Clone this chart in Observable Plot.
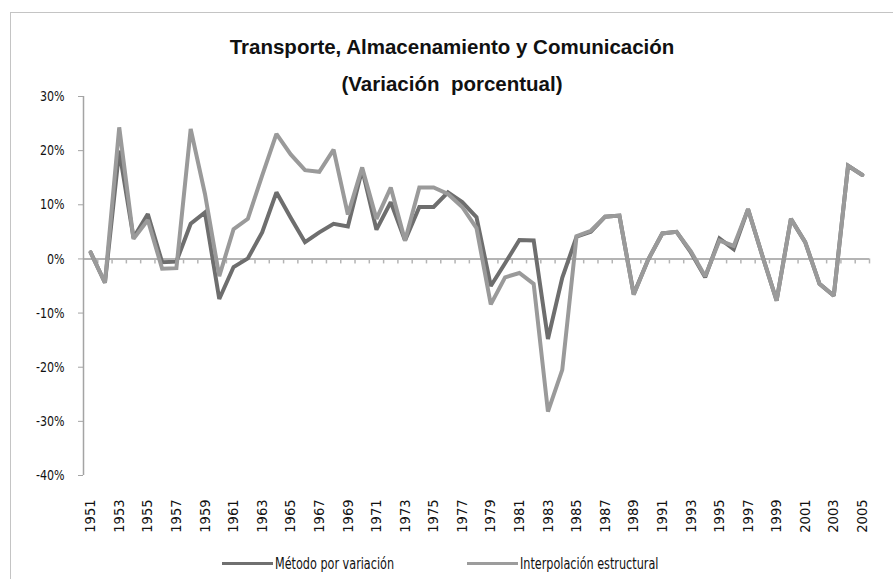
<!DOCTYPE html>
<html><head><meta charset="utf-8">
<script src="https://cdn.jsdelivr.net/npm/d3@7"></script>
<script src="https://cdn.jsdelivr.net/npm/@observablehq/plot@0.6"></script>
<style>
body{margin:0;background:#fff;}
#wrap{position:relative;width:893px;height:579px;overflow:hidden;background:#fff;font-family:"Liberation Sans Narrow","Arial Narrow","DejaVu Sans Condensed",sans-serif;}
#chart{position:absolute;left:0;top:0;}
#border{position:absolute;left:10px;top:12px;width:900px;height:600px;border-top:1px solid #c4c4c4;border-left:1px solid #c4c4c4;}
.title{position:absolute;left:0;width:904px;text-align:center;font-family:"Liberation Sans",Arial,sans-serif;font-weight:bold;font-size:20.5px;line-height:20px;color:#111;white-space:pre;}
.leg{position:absolute;font-size:16px;line-height:16px;color:#111;white-space:nowrap;transform:scaleX(0.78);transform-origin:0 50%;}
.sw{position:absolute;height:3px;}
</style></head>
<body>
<div id="wrap">
  <div id="border"></div>
  <div id="chart"></div>
  <div class="title" style="top:37px">Transporte, Almacenamiento y Comunicación</div>
  <div class="title" style="top:74px">(Variación  porcentual)</div>
  <div class="sw" style="left:222px;top:562px;width:51px;background:#707070"></div>
  <div class="leg" style="left:275px;top:556px">Método por variación</div>
  <div class="sw" style="left:467px;top:562px;width:51px;background:#9c9c9c"></div>
  <div class="leg" style="left:520px;top:556px">Interpolación estructural</div>
</div>
<script>
const years = [
  1951,1952,1953,1954,1955,1956,1957,1958,1959,1960,
  1961,1962,1963,1964,1965,1966,1967,1968,1969,1970,
  1971,1972,1973,1974,1975,1976,1977,1978,1979,1980,
  1981,1982,1983,1984,1985,1986,1987,1988,1989,1990,
  1991,1992,1993,1994,1995,1996,1997,1998,1999,2000,
  2001,2002,2003,2004,2005
];
// Método por variación (%)
const metodo = [
  1.2,-4.4,20.0,3.9,8.3,-0.6,-0.5,6.5,8.6,-7.4,
  -1.5,0.1,4.9,12.3,7.6,3.1,4.9,6.5,6.0,16.5,
  5.4,10.5,3.4,9.6,9.6,12.3,10.5,7.7,-5.0,-0.8,
  3.5,3.4,-14.8,-3.5,4.1,5.0,7.8,8.0,-6.5,-0.2,
  4.7,5.0,1.2,-3.4,3.8,1.8,9.2,0.6,-7.7,7.4,
  3.1,-4.6,-6.8,17.2,15.5
];
// Interpolación estructural (%)
const interp = [
  1.2,-4.4,24.3,3.7,7.2,-1.8,-1.7,24.0,12.0,-3.2,
  5.5,7.4,15.4,23.1,19.3,16.4,16.1,20.2,8.2,16.9,
  7.4,13.2,3.4,13.2,13.2,12.0,9.6,5.7,-8.4,-3.4,
  -2.6,-4.6,-28.2,-20.5,4.2,5.2,7.8,8.0,-6.6,-0.2,
  4.7,5.0,1.4,-3.2,3.4,2.4,9.2,0.6,-7.7,7.4,
  3.1,-4.6,-6.8,17.2,15.5
];
const yTicks = [-40,-30,-20,-10,0,10,20,30];
const xTickYears = [1951,1953,1955,1957,1959,1961,1963,1965,1967,1969,1971,1973,1975,1977,1979,1981,1983,1985,1987,1989,1991,1993,1995,1997,1999,2001,2003,2005];

const rowsM = years.map((y,i)=>({year:y, value:metodo[i]}));
const rowsI = years.map((y,i)=>({year:y, value:interp[i]}));
const bounds = years.map(y=>y+0.5);

const chart = Plot.plot({
  width: 893, height: 579,
  marginLeft: 83, marginRight: 24, marginTop: 96, marginBottom: 104,
  style: {fontFamily: '"Liberation Sans Narrow","Arial Narrow","DejaVu Sans Condensed",sans-serif', fontSize: "14.5px", color: "#111", background: "transparent"},
  x: {type: "linear", domain: [years[0]-0.5, years[years.length-1]+0.5]},
  y: {domain: [-40, 30]},
  marks: [
    Plot.ruleY([0], {stroke: "#b4b4b4", strokeWidth: 2}),
    Plot.ruleX(bounds, {x: d=>d, y1: 0, y2: 0, insetBottom: -5, stroke: "#b4b4b4", strokeWidth: 1.5}),
    Plot.ruleX([years[0]-0.5], {stroke: "#a4a4a4", strokeWidth: 1.5}),
    Plot.axisY({ticks: yTicks, tickFormat: d => `${d}%`, tickSize: 5, tickPadding: 14, label: null, stroke: "#a4a4a4", fontSize: 14.5}),
    Plot.axisX({ticks: xTickYears, tickFormat: d => String(d), tickRotate: -90, tickSize: 0, tickPadding: 24, label: null, fontSize: 14.5}),
    Plot.line(rowsM, {x: "year", y: "value", stroke: "#6e6e6e", strokeWidth: 4, strokeLinejoin: "miter", strokeMiterlimit: 2}),
    Plot.line(rowsI, {x: "year", y: "value", stroke: "#9a9a9a", strokeWidth: 4, strokeLinejoin: "miter", strokeMiterlimit: 2})
  ]
});
document.getElementById("chart").appendChild(chart);
// narrow the y tick labels horizontally to mimic the condensed original font
chart.querySelectorAll('g[aria-label="y-axis tick label"] text').forEach(el => {
  const t = el.getAttribute("transform");
  if (t) el.setAttribute("transform", t + " scale(0.85,1)");
});
</script>
</body></html>
